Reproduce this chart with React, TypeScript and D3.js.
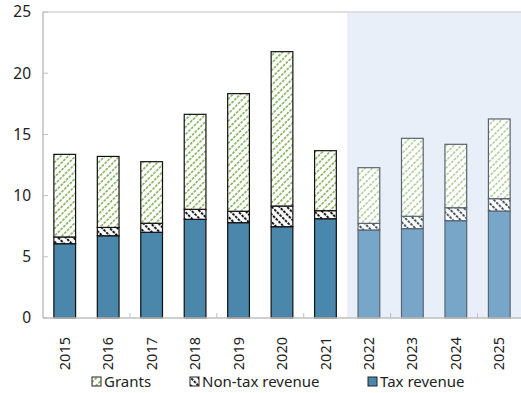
import React, { useEffect, useRef } from 'react';
import * as d3 from 'd3';

const years = ['2015', '2016', '2017', '2018', '2019', '2020', '2021', '2022', '2023', '2024', '2025'];
const taxRevenue = [6.07, 6.72, 7.0, 8.06, 7.79, 7.46, 8.11, 7.19, 7.3, 7.95, 8.74];
const nonTaxRevenue = [0.55, 0.68, 0.74, 0.82, 0.93, 1.69, 0.66, 0.54, 1.01, 1.06, 1.01];
const grants = [6.75, 5.8, 5.03, 7.76, 9.61, 12.61, 4.9, 4.55, 6.37, 5.18, 6.51];
const yTicks = [0, 5, 10, 15, 20, 25];
const forecastFrom = '2022';

const W = 521;
const H = 393;
const FONT = '"Noto Sans", "Open Sans", sans-serif';

const App: React.FC = () => {
  const svgRef = useRef<SVGSVGElement>(null);

  useEffect(() => {
    if (!svgRef.current) return;
    const svg = d3.select(svgRef.current);
    svg.selectAll('*').remove();

    const left = 43, right = 521, top = 12, bottom = 318;

    const x = d3.scaleBand<string>().domain(years).range([left, right]).paddingInner(0.5).paddingOuter(0.25);
    const y = d3.scaleLinear().domain([0, 25]).range([bottom, top]);

    // hatch patterns: a dashed vertical line, rotated
    const defs = svg.append('defs');
    const mkHatch = (id: string, color: string, angle: number, gap: number, sw: number, dash: [number, number]) => {
      const h = dash[0] + dash[1];
      const p = defs.append('pattern').attr('id', id).attr('patternUnits', 'userSpaceOnUse')
        .attr('width', gap).attr('height', h).attr('patternTransform', `rotate(${angle})`);
      p.append('rect').attr('width', gap).attr('height', h).attr('fill', 'white');
      p.append('line').attr('x1', gap / 2).attr('x2', gap / 2).attr('y1', 0).attr('y2', h)
        .attr('stroke', color).attr('stroke-width', sw).attr('stroke-dasharray', `${dash[0]},${dash[1]}`);
    };
    mkHatch('grantsHist', '#78ab48', 45, 5.2, 1.5, [2.6, 1.3]);
    mkHatch('grantsProj', '#a6c98c', 45, 5.2, 1.5, [2.6, 1.3]);
    mkHatch('nonTaxHist', '#111', -45, 5.4, 2, [2.6, 1.2]);
    mkHatch('nonTaxProj', '#46505a', -45, 5.4, 2, [2.6, 1.2]);

    // forecast shading
    const fx = (x(forecastFrom) as number) - x.step() * x.paddingInner() / 2;
    svg.append('rect').attr('x', fx).attr('y', top + 1).attr('width', right - fx).attr('height', bottom - top - 1)
      .attr('fill', '#e9eff9');

    // top border
    svg.append('line').attr('x1', left).attr('x2', right).attr('y1', top).attr('y2', top)
      .attr('stroke', '#c0c0c0').attr('stroke-width', 1);

    const isProj = (yr: string) => +yr >= +forecastFrom;

    const rows = years.map((yr, i) => ({
      yr,
      tax: taxRevenue[i],
      nonTax: nonTaxRevenue[i],
      grants: grants[i],
    }));

    const g = svg.append('g');
    rows.forEach(d => {
      const bx = x(d.yr) as number;
      const proj = isProj(d.yr);
      const stroke = proj ? '#5a6570' : '#111';
      const segs = [
        { y0: 0, y1: d.tax, fill: proj ? '#78a6c9' : '#4a87ab' },
        { y0: d.tax, y1: d.tax + d.nonTax, fill: proj ? 'url(#nonTaxProj)' : 'url(#nonTaxHist)' },
        { y0: d.tax + d.nonTax, y1: d.tax + d.nonTax + d.grants, fill: proj ? 'url(#grantsProj)' : 'url(#grantsHist)' },
      ];
      segs.forEach(s => {
        g.append('rect')
          .attr('x', bx)
          .attr('y', y(s.y1))
          .attr('width', x.bandwidth())
          .attr('height', y(s.y0) - y(s.y1))
          .attr('fill', s.fill)
          .attr('stroke', stroke)
          .attr('stroke-width', 1.2);
      });
    });

    // y axis
    svg.append('line').attr('x1', left).attr('x2', left).attr('y1', top).attr('y2', bottom)
      .attr('stroke', '#bfbfbf').attr('stroke-width', 1.5);
    yTicks.forEach(t => {
      svg.append('line').attr('x1', left).attr('x2', left + 5).attr('y1', y(t)).attr('y2', y(t))
        .attr('stroke', '#bfbfbf');
      svg.append('text').attr('x', 31).attr('y', y(t)).attr('dy', '0.35em')
        .attr('text-anchor', 'end').attr('font-family', FONT).attr('font-size', 15.5).attr('fill', '#222')
        .text(t);
    });

    // x axis
    svg.append('line').attr('x1', left).attr('x2', right).attr('y1', bottom).attr('y2', bottom)
      .attr('stroke', '#bfbfbf').attr('stroke-width', 1.5);
    years.forEach((yr, i) => {
      if (i > 0 && i % 2 === 0) {
        const tx = (x(yr) as number) - x.step() * x.paddingInner() / 2;
        svg.append('line').attr('x1', tx).attr('x2', tx).attr('y1', bottom).attr('y2', bottom - 5)
          .attr('stroke', '#bfbfbf');
      }
      const cx = (x(yr) as number) + x.bandwidth() / 2;
      svg.append('text')
        .attr('transform', `translate(${cx},${bottom + 19}) rotate(-90)`)
        .attr('dy', '0.35em')
        .attr('text-anchor', 'end')
        .attr('font-family', FONT).attr('font-size', 14.5).attr('fill', '#222')
        .text(yr);
    });

    // legend
    const legend = [
      { label: 'Grants', fill: 'url(#grantsHist)', x: 92 },
      { label: 'Non-tax revenue', fill: 'url(#nonTaxHist)', x: 190 },
      { label: 'Tax revenue', fill: '#4a87ab', x: 368 },
    ];
    legend.forEach(l => {
      svg.append('rect').attr('x', l.x).attr('y', 377).attr('width', 9).attr('height', 9)
        .attr('fill', l.fill).attr('stroke', '#222').attr('stroke-width', 1);
      svg.append('text').attr('x', l.x + 12).attr('y', 382).attr('dy', '0.35em')
        .attr('font-family', FONT).attr('font-size', 15).attr('fill', '#222')
        .text(l.label);
    });
  }, []);

  return <svg ref={svgRef} width={W} height={H} style={{ display: 'block', position: 'absolute', left: 0, top: 0 }} />;
};

export default App;
